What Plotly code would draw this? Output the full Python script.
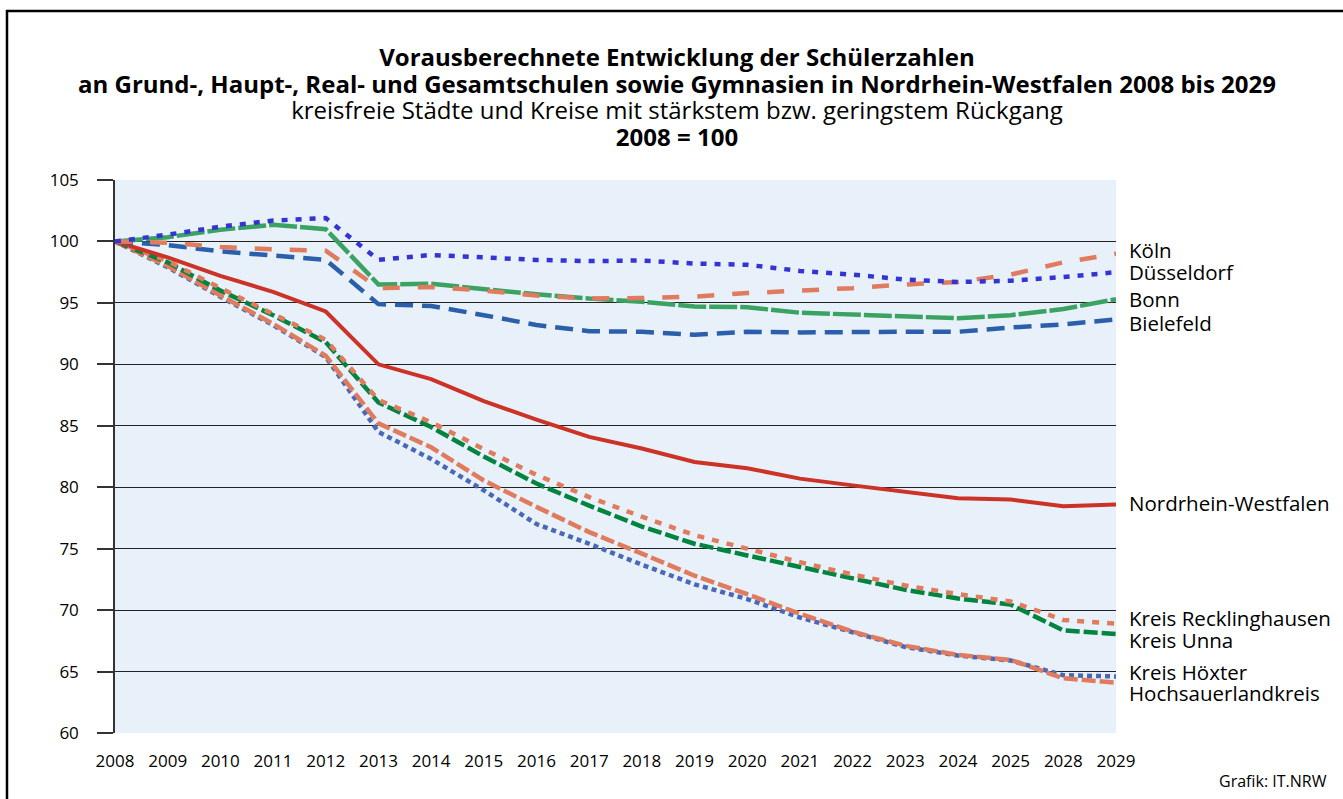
import plotly.graph_objects as go

years = ["2008", "2009", "2010", "2011", "2012", "2013", "2014", "2015", "2016", "2017",
         "2018", "2019", "2020", "2021", "2022", "2023", "2024", "2025", "2028", "2029"]

koeln = [100, 99.9, 99.55, 99.35, 99.25, 96.2, 96.3, 96.0, 95.6, 95.35,
         95.4, 95.5, 95.8, 96.0, 96.2, 96.5, 96.7, 97.3, 98.3, 99.0]
duesseldorf = [100, 100.55, 101.2, 101.7, 101.9, 98.5, 98.9, 98.7, 98.5, 98.4,
               98.45, 98.2, 98.1, 97.6, 97.3, 96.9, 96.7, 96.8, 97.1, 97.5]
bonn = [100, 100.35, 100.95, 101.35, 101.0, 96.5, 96.55, 96.1, 95.7, 95.35,
        95.1, 94.7, 94.65, 94.2, 94.05, 93.85, 93.75, 94.0, 94.5, 95.3]
bielefeld = [100, 99.7, 99.2, 98.85, 98.5, 94.9, 94.75, 94.0, 93.2, 92.7,
             92.65, 92.4, 92.65, 92.6, 92.65, 92.65, 92.65, 93.0, 93.25, 93.65]
nrw = [100, 98.7, 97.2, 95.9, 94.3, 90.0, 88.8, 87.0, 85.5, 84.1,
       83.15, 82.05, 81.55, 80.7, 80.15, 79.6, 79.1, 79.0, 78.45, 78.6]
recklinghausen = [100, 98.4, 96.2, 94.1, 92.0, 87.1, 85.3, 83.1, 81.0, 79.2,
                  77.6, 76.1, 75.0, 73.9, 72.9, 72.0, 71.3, 70.7, 69.2, 68.9]
unna = [100, 98.3, 96.0, 94.0, 91.8, 86.9, 84.9, 82.5, 80.3, 78.5,
        76.8, 75.4, 74.45, 73.5, 72.6, 71.65, 70.95, 70.45, 68.35, 68.05]
hoexter = [100, 97.9, 95.5, 93.2, 90.6, 84.5, 82.3, 79.75, 77.0, 75.4,
           73.7, 72.1, 70.9, 69.4, 68.2, 67.0, 66.3, 65.9, 64.7, 64.6]
hochsauerland = [100, 98.0, 95.6, 93.3, 90.7, 85.2, 83.25, 80.55, 78.4, 76.35,
                 74.6, 72.8, 71.3, 69.7, 68.25, 67.1, 66.35, 65.95, 64.45, 64.1]

series = [
    ("Kreis Höxter", hoexter, "#4a68b8", "5px,4px", 4.5),
    ("Hochsauerlandkreis", hochsauerland, "#e07b5e", "14px,4px", 4.5),
    ("Kreis Unna", unna, "#00843f", "14px,4px", 4.5),
    ("Kreis Recklinghausen", recklinghausen, "#e07b5e", "7px,8px", 4.5),
    ("Nordrhein-Westfalen", nrw, "#cc3326", "solid", 4),
    ("Bielefeld", bielefeld, "#2c5fab", "18px,9px", 4.5),
    ("Bonn", bonn, "#3aa363", "28px,3px", 4.5),
    ("Köln", koeln, "#e07b5e", "17px,18px", 4.5),
    ("Düsseldorf", duesseldorf, "#3434d4", "6px,8px", 4.5),
]

# right-hand labels, grouped where the reference stacks them tightly
label_groups = [
    (["Köln", "Düsseldorf"], 98.37, 17),
    (["Bonn", "Bielefeld"], 94.30, 18.5),
    (["Nordrhein-Westfalen"], 78.68, 17),
    (["Kreis Recklinghausen", "Kreis Unna"], 68.43, 17),
    (["Kreis Höxter", "Hochsauerlandkreis"], 64.08, 16.2),
]

title_lines = [
    ("Vorausberechnete Entwicklung der Schülerzahlen", True),
    ("an Grund-, Haupt-, Real- und Gesamtschulen sowie Gymnasien in Nordrhein-Westfalen 2008 bis 2029", True),
    ("kreisfreie Städte und Kreise mit stärkstem bzw. geringstem Rückgang", False),
    ("2008 = 100", True),
]

FONT = "Open Sans"

fig = go.Figure()
for name, vals, color, dash, w in series:
    fig.add_trace(go.Scatter(x=years, y=vals, mode="lines", name=name,
                             line=dict(color=color, width=w, dash=dash),
                             showlegend=False))

L, R, T, B = 115, 227, 180, 66
W, H = 1343, 799
pw = W - L - R
ph = H - T - B


def px(xp):
    return (xp - L) / pw


def py(yp):
    return (H - B - yp) / ph


ann = []
title_html = "<br>".join(
    "<span style='font-size:24px'>" + (f"<b>{t}</b>" if b else t) + "</span>"
    for t, b in title_lines
)
ann.append(dict(text=title_html, xref="paper", yref="paper", x=px(677), y=py(97),
                xanchor="center", yanchor="middle", showarrow=False, align="center",
                font=dict(family=FONT, size=20.5, color="black")))

for names, yv, base in label_groups:
    txt = "<br>".join(f"<span style='font-size:20.5px'>{n}</span>" for n in names)
    ann.append(dict(text=txt, xref="paper", yref="y", x=px(1127), y=yv,
                    xanchor="left", yanchor="middle", showarrow=False, align="left",
                    font=dict(family=FONT, size=base, color="black")))

ann.append(dict(text="Grafik: IT.NRW", xref="paper", yref="paper", x=px(1329), y=py(781),
                xanchor="right", yanchor="middle", showarrow=False,
                font=dict(family=FONT, size=16, color="black")))

shapes = [
    dict(type="line", xref="paper", yref="paper", x0=px(7), x1=px(7), y0=py(10), y1=py(805),
         line=dict(color="black", width=2.5)),
    dict(type="line", xref="paper", yref="paper", x0=px(6), x1=px(1350), y0=py(11), y1=py(11),
         line=dict(color="black", width=2.5)),
]

fig.update_layout(
    width=W, height=H,
    margin=dict(l=L, r=R, t=T, b=B, pad=0),
    paper_bgcolor="white",
    plot_bgcolor="#e8f0f9",
    annotations=ann,
    shapes=shapes,
    font=dict(family=FONT, size=16, color="black"),
)
fig.update_xaxes(type="category", range=[0, len(years) - 1], showgrid=False,
                 showline=False, zeroline=False, ticks="",
                 tickfont=dict(family=FONT, size=17, color="black"),
                 ticklabelstandoff=16)
fig.update_yaxes(range=[60, 105], dtick=5, showgrid=True, gridcolor="#222222", gridwidth=1,
                 showline=True, linecolor="#333333", linewidth=1.5,
                 ticks="outside", ticklen=16, tickcolor="#333333", tickwidth=1.5,
                 zeroline=False, tickfont=dict(family=FONT, size=17, color="black"),
                 ticklabelstandoff=15)

fig.write_html("out.html", config={"displayModeBar": False},
               post_script="document.body.style.margin='0';")
